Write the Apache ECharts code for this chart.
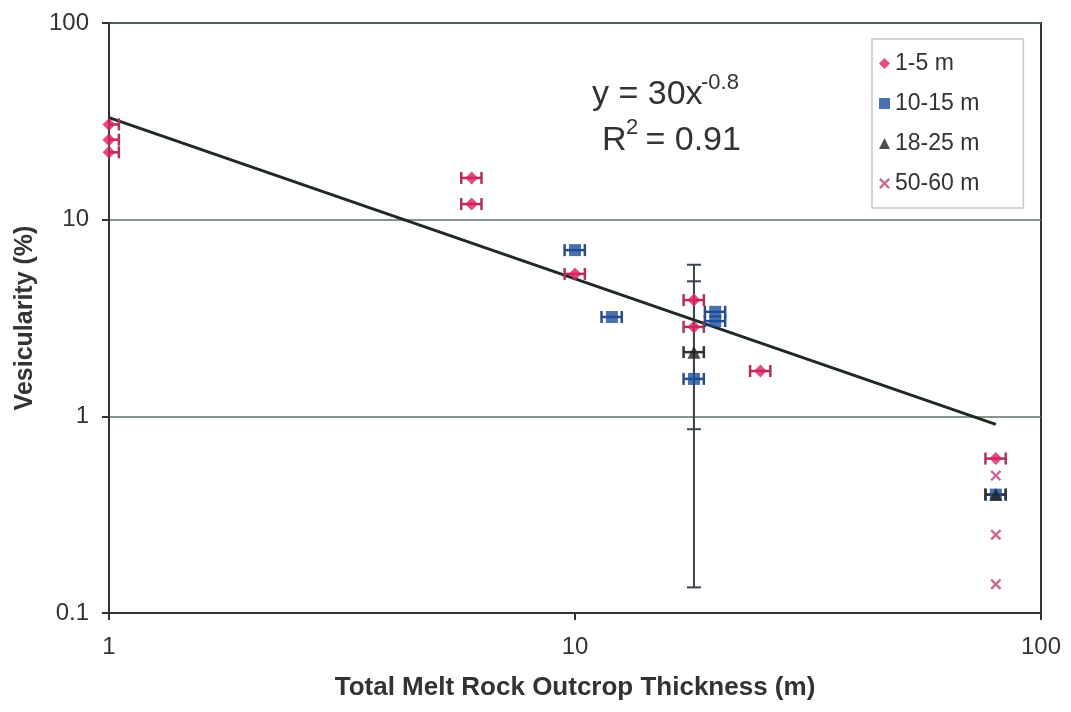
<!DOCTYPE html>
<html>
<head>
<meta charset="utf-8">
<script src="https://cdn.jsdelivr.net/npm/echarts@6/dist/echarts.min.js"></script>
<style>
html,body{margin:0;padding:0;background:#fff;}
#chart{width:1071px;height:712px;}
</style>
</head>
<body>
<div id="chart"></div>
<script>
// ---- data ----
const seriesNames = ['1-5 m', '10-15 m', '18-25 m', '50-60 m'];
const red15 = [[1, 30.5], [1, 25.5], [1, 22], [6, 16.3], [6, 12], [10, 5.3], [18, 3.9], [18, 2.85], [25, 1.7], [80, 0.61]];
const blue1015 = [[10, 7.0], [12, 3.2], [20, 3.4], [20, 3.05], [18, 1.55], [80, 0.4]];
const black1825 = [[18, 2.12], [80, 0.4]];
const cross5060 = [[80, 0.5], [80, 0.25], [80, 0.14]];
// vertical error bars: [x, low, high]
const vErrBars = [[18, 0.135, 5.9], [18, 0.86, 4.86]];
// relative horizontal error (±)
const xErrFrac = 0.05;
// trend line endpoints as drawn
const trendLine = [[1, 33], [80, 0.91]];
const xTicks = [1, 10, 100];
const yTicks = [0.1, 1, 10, 100];

const colors = {red: '#dc1f5c', blue: '#1d4c98', black: '#222222', cross: '#c2407a'};

const chart = echarts.init(document.getElementById('chart'), null, {renderer: 'canvas'});

function hErrSeries(data, color, name) {
  return {
    type: 'custom', name: name + '_err', silent: true, clip: true, z: 3,
    data: data,
    renderItem: function (params, api) {
      const x = api.value(0), y = api.value(1);
      const p1 = api.coord([x * (1 - xErrFrac), y]);
      const p2 = api.coord([x * (1 + xErrFrac), y]);
      const cap = 6;
      const st = {stroke: color, lineWidth: 2.5};
      return {type: 'group', children: [
        {type: 'line', shape: {x1: p1[0], y1: p1[1], x2: p2[0], y2: p2[1]}, style: st},
        {type: 'line', shape: {x1: p1[0], y1: p1[1] - cap, x2: p1[0], y2: p1[1] + cap}, style: st},
        {type: 'line', shape: {x1: p2[0], y1: p2[1] - cap, x2: p2[0], y2: p2[1] + cap}, style: st}
      ]};
    }
  };
}

const crossPath = 'path://M0,1.5L1.5,0L5,3.5L8.5,0L10,1.5L6.5,5L10,8.5L8.5,10L5,6.5L1.5,10L0,8.5L3.5,5Z';

const option = {
  backgroundColor: '#ffffff',
  animation: false,
  textStyle: {fontFamily: 'Liberation Sans, Arial, sans-serif'},
  grid: {left: 109, right: 30, top: 23, bottom: 99, show: true, borderColor: '#333', borderWidth: 2, backgroundColor: 'transparent'},
  xAxis: {
    type: 'log', logBase: 10, min: 1, max: 100,
    name: 'Total Melt Rock Outcrop Thickness (m)', nameLocation: 'middle', nameGap: 62,
    nameTextStyle: {fontSize: 26, fontWeight: 'bold', color: '#333'},
    axisLine: {show: true, lineStyle: {color: '#333', width: 2}},
    axisTick: {show: true, length: 7, lineStyle: {color: '#333', width: 2}},
    axisLabel: {fontSize: 24, color: '#333', margin: 22,
      formatter: v => (xTicks.indexOf(Math.round(v * 1000) / 1000) >= 0 ? String(v) : '')},
    splitLine: {show: false}, minorTick: {show: false}
  },
  yAxis: {
    type: 'log', logBase: 10, min: 0.1, max: 100,
    name: 'Vesicularity (%)', nameLocation: 'middle', nameGap: 60,
    nameTextStyle: {fontSize: 25, fontWeight: 'bold', color: '#333'},
    axisLine: {show: true, lineStyle: {color: '#333', width: 2}},
    axisTick: {show: true, length: 7, lineStyle: {color: '#333', width: 2}},
    axisLabel: {fontSize: 24, color: '#333', margin: 20,
      formatter: v => { const r = Math.round(v * 1000) / 1000; return yTicks.indexOf(r) >= 0 ? String(r) : ''; }},
    splitLine: {show: true, lineStyle: {color: '#5f6f62', width: 1.5}}
  },
  legend: {
    orient: 'vertical', left: 872, top: 39,
    data: seriesNames,
    itemWidth: 11, itemHeight: 11, itemGap: 17,
    padding: [13, 44, 13, 7],
    borderColor: '#c8c8c8', borderWidth: 1.5, backgroundColor: '#fff',
    textStyle: {fontSize: 23, color: '#333', lineHeight: 23}
  },
  graphic: [
    {type: 'text', left: 592, top: 78, style: {text: 'y = 30x', fontSize: 34, fill: '#333', fontFamily: 'Liberation Sans'}},
    {type: 'text', left: 701, top: 72, style: {text: '-0.8', fontSize: 22, fill: '#333', fontFamily: 'Liberation Sans'}},
    {type: 'text', left: 602, top: 124, style: {text: 'R', fontSize: 34, fill: '#333', fontFamily: 'Liberation Sans'}},
    {type: 'text', left: 626, top: 117, style: {text: '2', fontSize: 22, fill: '#333', fontFamily: 'Liberation Sans'}},
    {type: 'text', left: 636, top: 124, style: {text: ' = 0.91', fontSize: 34, fill: '#333', fontFamily: 'Liberation Sans'}}
  ],
  series: [
    {type: 'line', name: 'trend', data: trendLine, showSymbol: false, symbol: 'none', silent: true,
      lineStyle: {color: '#1f2a22', width: 3}, z: 2},
    hErrSeries(red15, '#b0305c', '1-5 m'),
    hErrSeries(blue1015, '#2a4c8c', '10-15 m'),
    hErrSeries(black1825, '#333', '18-25 m'),
    {
      type: 'custom', name: 'verr', silent: true, z: 2,
      data: vErrBars,
      renderItem: function (params, api) {
        const x = api.value(0);
        const p1 = api.coord([x, api.value(1)]);
        const p2 = api.coord([x, api.value(2)]);
        const cap = 7;
        const st = {stroke: '#3c4450', lineWidth: 2};
        return {type: 'group', children: [
          {type: 'line', shape: {x1: p1[0], y1: p1[1], x2: p2[0], y2: p2[1]}, style: st},
          {type: 'line', shape: {x1: p1[0] - cap, y1: p1[1], x2: p1[0] + cap, y2: p1[1]}, style: st},
          {type: 'line', shape: {x1: p2[0] - cap, y1: p2[1], x2: p2[0] + cap, y2: p2[1]}, style: st}
        ]};
      }
    },
    {type: 'scatter', name: '1-5 m', data: red15, symbol: 'diamond', symbolSize: 13, itemStyle: {color: colors.red}, z: 5},
    {type: 'scatter', name: '10-15 m', data: blue1015, symbol: 'rect', symbolSize: 12, itemStyle: {color: colors.blue}, z: 5},
    {type: 'scatter', name: '18-25 m', data: black1825, symbol: 'triangle', symbolSize: 13, itemStyle: {color: colors.black}, z: 6},
    {type: 'scatter', name: '50-60 m', data: cross5060, symbol: crossPath, symbolSize: 11, itemStyle: {color: colors.cross}, z: 5}
  ]
};
chart.setOption(option);
</script>
</body>
</html>
